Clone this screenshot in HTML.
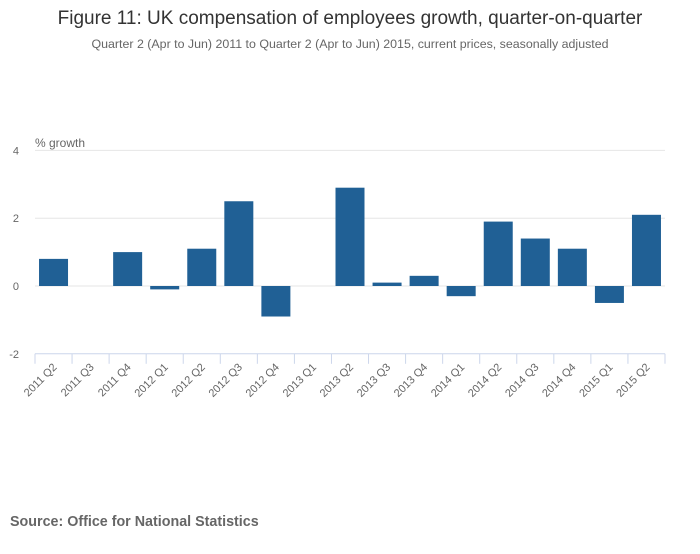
<!DOCTYPE html>
<html><head><meta charset="utf-8"><style>
body{margin:0;background:#fff;font-family:"Liberation Sans",sans-serif;}
svg text{font-family:"Liberation Sans",sans-serif;}
</style></head><body>
<svg id="chart" width="700" height="549" xmlns="http://www.w3.org/2000/svg">
<rect width="700" height="549" fill="#fff"/>
<text x="350" y="24" text-anchor="middle" font-size="19" fill="#333">Figure 11: UK compensation of employees growth, quarter-on-quarter</text>
<text x="350" y="48" text-anchor="middle" font-size="12.4" fill="#666">Quarter 2 (Apr to Jun) 2011 to Quarter 2 (Apr to Jun) 2015, current prices, seasonally adjusted</text>
<text x="35" y="147" font-size="12" fill="#666">% growth</text>
<g id="grid"></g><g id="bars"></g><g id="xaxis"></g>
<text x="10" y="526" font-size="14.3" font-weight="bold" fill="#666">Source: Office for National Statistics</text>
</svg>
<script>
const categories=["2011 Q2","2011 Q3","2011 Q4","2012 Q1","2012 Q2","2012 Q3","2012 Q4","2013 Q1","2013 Q2","2013 Q3","2013 Q4","2014 Q1","2014 Q2","2014 Q3","2014 Q4","2015 Q1","2015 Q2"];
const values=[0.8,0,1.0,-0.1,1.1,2.5,-0.9,0,2.9,0.1,0.3,-0.3,1.9,1.4,1.1,-0.5,2.1];
const yTicks=[4,2,0,-2];
const NS="http://www.w3.org/2000/svg";
const left=35,right=665,y0=286,unit=33.9;
const step=(right-left)/categories.length;
const y=v=>y0-v*unit;
const x=i=>left+i*step;
function mk(t,a,p){const e=document.createElementNS(NS,t);for(const k in a)e.setAttribute(k,a[k]);p.appendChild(e);return e;}
const grid=document.getElementById('grid'),bars=document.getElementById('bars'),xa=document.getElementById('xaxis');
yTicks.forEach(v=>{
 if(v>-2){const l=mk('line',{x1:left,x2:right,y1:y(v),y2:y(v),stroke:'#e6e6e6'},grid);
 
 }
 const t=mk('text',{x:19,y:y(v)+4,'text-anchor':'end','font-size':11,fill:'#666'},grid);t.textContent=v;
 
 
});
const ax=mk('line',{x1:left,x2:right,y1:y(-2),y2:y(-2),stroke:'#ccd6eb'},xa);


categories.forEach((c,i)=>{
 const v=values[i];const bw=29;const cx=x(i)+step/2;
 const r=mk('rect',{x:cx-bw/2,y:Math.min(y(v),y0),width:bw,height:Math.max(Math.abs(y(v)-y0),0),fill:'#206095'},bars);
 
 
 const tk=mk('line',{x1:x(i),x2:x(i),y1:y(-2),y2:y(-2)+10,stroke:'#ccd6eb'},xa);
 
 
 const t=mk('text',{x:cx+4,y:y(-2)+14,'text-anchor':'end','font-size':11,fill:'#666',transform:`rotate(-45 ${cx+4} ${y(-2)+14})`},xa);
 t.textContent=c;
 
 
});
const tk=mk('line',{x1:right,x2:right,y1:y(-2),y2:y(-2)+10,stroke:'#ccd6eb'},xa);


</script>
</body></html>
